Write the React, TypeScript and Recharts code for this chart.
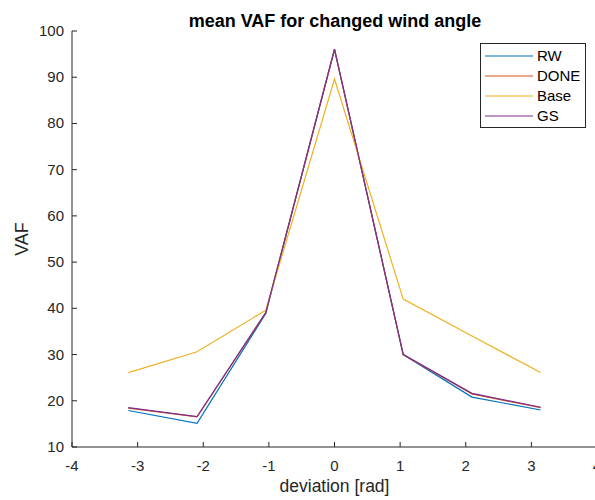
import React from "react";
import { LineChart, Line, XAxis, YAxis } from "recharts";

// deviation angles (multiples of pi/3)
const deviation = [-3.1416, -2.0944, -1.0472, 0, 1.0472, 2.0944, 3.1416];
const rw = [17.9, 15.1, 38.9, 96.0, 30.0, 20.8, 18.0];
const done = [18.4, 16.5, 39.1, 96.0, 30.0, 21.5, 18.5];
const base = [26.1, 30.6, 39.6, 89.6, 42.0, 34.0, 26.1];
const gs = [18.5, 16.6, 39.1, 96.1, 30.0, 21.6, 18.6];

const xTicks = [-4, -3, -2, -1, 0, 1, 2, 3, 4];
const yTicks = [10, 20, 30, 40, 50, 60, 70, 80, 90, 100];

const series = [
  { key: "RW", color: "#0072BD" },
  { key: "DONE", color: "#D95319" },
  { key: "Base", color: "#EDB120" },
  { key: "GS", color: "#7E2F8E" },
];

const data = deviation.map((x, i) => ({
  x,
  RW: rw[i],
  DONE: done[i],
  Base: base[i],
  GS: gs[i],
}));

const FONT = "'Liberation Sans', Arial, Helvetica, sans-serif";
const AXIS = "#262626";

const XTick = ({ x, y, payload }: any) => (
  <g>
    <line x1={x} y1={y} x2={x} y2={y - 5} stroke={AXIS} strokeWidth={1} />
    <text x={x} y={y + 23.5} textAnchor="middle" fontSize={15} fontFamily={FONT} fill={AXIS}>
      {payload.value}
    </text>
  </g>
);

const YTick = ({ x, y, payload }: any) => (
  <g>
    <line x1={x} y1={y} x2={x + 5} y2={y} stroke={AXIS} strokeWidth={1} />
    <text x={x - 8} y={y + 5} textAnchor="end" fontSize={15} fontFamily={FONT} fill={AXIS}>
      {payload.value}
    </text>
  </g>
);

const LegendBox = () => (
  <svg width={106} height={85} style={{ position: "absolute", left: 480, top: 43 }}>
    <rect x={0.5} y={0.5} width={105} height={84} fill="#fff" stroke={AXIS} strokeWidth={1} />
    {series.map((s, i) => (
      <g key={s.key}>
        <line x1={5} x2={53} y1={13 + i * 20} y2={13 + i * 20} stroke={s.color} strokeWidth={1.2} />
        <text x={57} y={18 + i * 20} fontSize={15} fontFamily={FONT} fill="#000">
          {s.key}
        </text>
      </g>
    ))}
  </svg>
);

export default function App() {
  return (
    <div style={{ position: "absolute", left: 0, top: 0, width: 595, height: 500, overflow: "hidden", background: "#fff" }}>
      <svg width={595} height={34} style={{ position: "absolute", left: 0, top: 0 }}>
        <text x={335} y={27} textAnchor="middle" fontSize={18} fontWeight="bold" fontFamily={FONT} fill="#000">
          mean VAF for changed wind angle
        </text>
      </svg>
      <LineChart width={600} height={500} data={data} margin={{ top: 31, right: 3, left: 0, bottom: 0 }}>
        <XAxis
          dataKey="x"
          type="number"
          domain={[-4, 4]}
          ticks={xTicks}
          interval={0}
          tickSize={0}
          tickMargin={0}
          tickLine={false}
          tick={<XTick />}
          stroke={AXIS}
          height={53}
          label={{
            content: (p: any) => {
              const vb = p.viewBox;
              return (
                <text x={vb.x + vb.width / 2} y={vb.y + 45} textAnchor="middle" fontSize={17.5} fontFamily={FONT} fill={AXIS}>
                  deviation [rad]
                </text>
              );
            },
          }}
        />
        <YAxis
          type="number"
          domain={[10, 100]}
          ticks={yTicks}
          interval={0}
          tickSize={0}
          tickMargin={0}
          tickLine={false}
          tick={<YTick />}
          stroke={AXIS}
          width={72}
          label={{
            content: (p: any) => {
              const vb = p.viewBox;
              const cx = vb.x + 28;
              const cy = vb.y + vb.height / 2;
              return (
                <text x={cx} y={cy} transform={`rotate(-90 ${cx} ${cy})`} textAnchor="middle" fontSize={18} fontFamily={FONT} fill={AXIS}>
                  VAF
                </text>
              );
            },
          }}
        />
        {series.map((s) => (
          <Line
            key={s.key}
            dataKey={s.key}
            type="linear"
            stroke={s.color}
            strokeWidth={1.2}
            dot={false}
            activeDot={false}
            isAnimationActive={false}
          />
        ))}
      </LineChart>
      <LegendBox />
    </div>
  );
}
